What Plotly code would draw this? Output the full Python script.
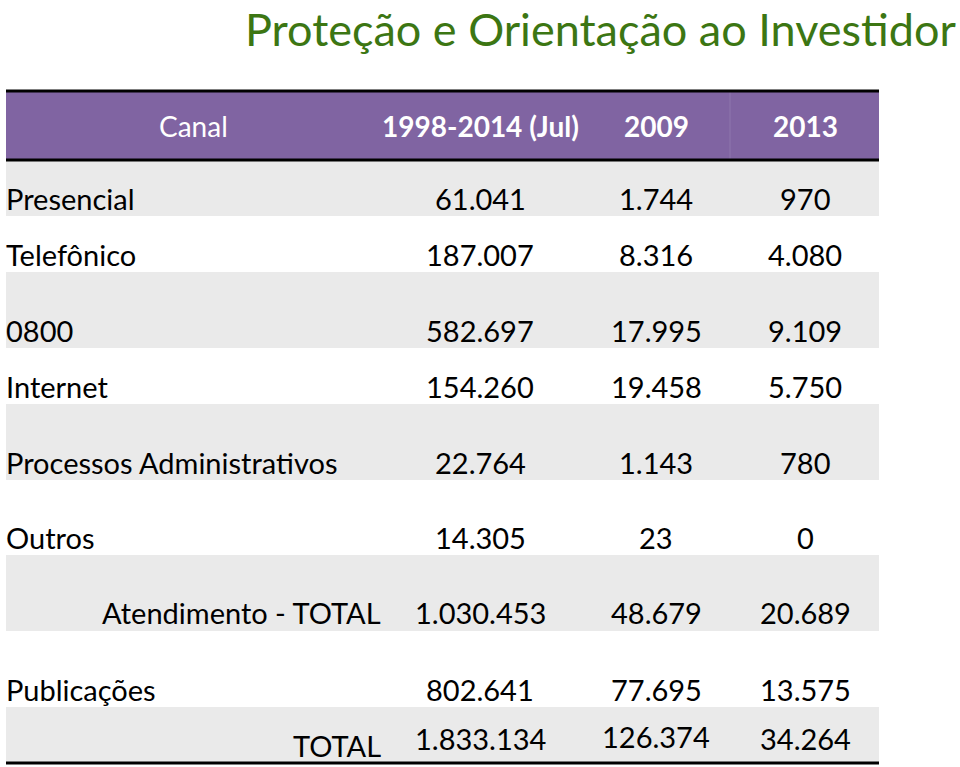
import plotly.graph_objects as go

# ---------------- data ----------------
title_text = "Proteção e Orientação ao Investidor"
headers = ["Canal", "1998-2014 (Jul)", "2009", "2013"]
categories = ["Presencial", "Telefônico", "0800", "Internet",
              "Processos Administrativos", "Outros",
              "Atendimento - TOTAL", "Publicações", "TOTAL"]
v_1998_2014 = [61041, 187007, 582697, 154260, 22764, 14305, 1030453, 802641, 1833134]
v_2009 = [1744, 8316, 17995, 19458, 1143, 23, 48679, 77695, 126374]
v_2013 = [970, 4080, 9109, 5750, 780, 0, 20689, 13575, 34264]

# ---------------- layout constants ----------------
W, H = 960, 767
FONT = "Lato"
X0, X1 = 6, 879
col_centers = [193, 480, 656, 805]
label_left = 4
label_right = 383
right_aligned_labels = {"Atendimento - TOTAL", "TOTAL"}
header_top, header_bot = 91, 160
row_edges = [161, 216, 272, 348, 404, 480, 555, 631, 707, 762]
text_y = [198, 254, 330, 386, 462, 537, 612, 689, 738]
shade = "#EAEAEA"
purple = "#8064A2"
green = "#3C7613"
FS = 29


def fmt(v):
    return f"{v:,}".replace(",", ".")


shapes = []
ann = []

# header
shapes.append(dict(type="rect", x0=X0, x1=X1, y0=header_top, y1=header_bot,
                   fillcolor=purple, line_width=0, layer="below"))
shapes.append(dict(type="line", x0=730, x1=730, y0=header_top, y1=header_bot,
                   line=dict(color="#8E76AD", width=1)))
shapes.append(dict(type="line", x0=X0, x1=X1, y0=header_top, y1=header_top,
                   line=dict(color="black", width=3)))
shapes.append(dict(type="line", x0=X0, x1=X1, y0=header_bot, y1=header_bot,
                   line=dict(color="black", width=3)))

for i, h in enumerate(headers):
    txt = h if i == 0 else f"<b>{h}</b>"
    ann.append(dict(x=col_centers[i], y=126, text=txt, xanchor="center",
                    yanchor="middle", showarrow=False,
                    font=dict(family=FONT, size=FS - 1, color="white")))

# rows
for r, cat in enumerate(categories):
    y0, y1 = row_edges[r], row_edges[r + 1]
    if r % 2 == 0:
        shapes.append(dict(type="rect", x0=X0, x1=X1, y0=y0, y1=y1,
                           fillcolor=shade, line_width=0, layer="below"))
    ty = text_y[r]
    if cat in right_aligned_labels:
        ly = ty + 7 if cat == "TOTAL" else ty
        ann.append(dict(x=label_right, y=ly, text=cat, xanchor="right",
                        yanchor="middle", showarrow=False,
                        font=dict(family=FONT, size=FS, color="black")))
    else:
        ann.append(dict(x=label_left, y=ty, text=cat, xanchor="left",
                        yanchor="middle", showarrow=False,
                        font=dict(family=FONT, size=FS, color="black")))
    for c, vals in enumerate([v_1998_2014, v_2009, v_2013]):
        yy = ty - 2 if (cat == "TOTAL" and c == 1) else ty
        ann.append(dict(x=col_centers[c + 1], y=yy, text=fmt(vals[r]),
                        xanchor="center", yanchor="middle", showarrow=False,
                        font=dict(family=FONT, size=FS, color="black")))

shapes.append(dict(type="line", x0=X0, x1=X1, y0=763, y1=763,
                   line=dict(color="black", width=3)))

# title
ann.append(dict(x=958, y=29, text=title_text, xanchor="right", yanchor="middle",
                showarrow=False, font=dict(family=FONT, size=45, color=green)))

fig = go.Figure()
fig.add_trace(go.Scatter(x=[0, W], y=[0, H], mode="markers",
                         marker=dict(opacity=0), hoverinfo="skip", showlegend=False))
fig.update_layout(
    width=W, height=H, margin=dict(l=0, r=0, t=0, b=0),
    paper_bgcolor="white", plot_bgcolor="white",
    xaxis=dict(range=[0, W], visible=False, fixedrange=True),
    yaxis=dict(range=[H, 0], visible=False, fixedrange=True),
    shapes=shapes, annotations=ann, showlegend=False,
)
fig.write_html("out.html", config={"displayModeBar": False},
               post_script="document.body.style.margin='0';document.body.style.overflow='hidden';")
